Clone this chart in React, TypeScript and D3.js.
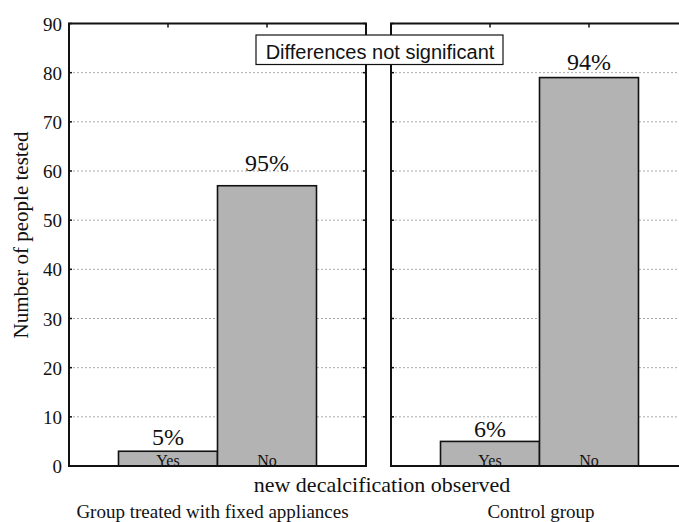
import React from "react";
import * as d3 from "d3";

const groups = ["Group treated with fixed appliances", "Control group"];
const categories = ["Yes", "No"];
const valuesTreated = [3, 57];
const valuesControl = [5, 79];
const percentTreated = ["5%", "95%"];
const percentControl = ["6%", "94%"];
const yTicks = [0, 10, 20, 30, 40, 50, 60, 70, 80, 90];

const W = 679;
const H = 522;
const top = 23.5;
const bottom = 466;
const panelW = 297;
const panelX = [69, 391];
const labelGaps = [
  [6, 15],
  [4, 8],
];
const groupLabelX = [212.5, 541];

export default function App() {
  const y = d3.scaleLinear().domain([0, 90]).range([bottom, top]);
  const serif = "'Liberation Serif', 'Times New Roman', serif";
  const sans = "'Liberation Sans', Arial, sans-serif";
  const panels = [
    { x0: panelX[0], values: valuesTreated, pct: percentTreated, name: groups[0] },
    { x0: panelX[1], values: valuesControl, pct: percentControl, name: groups[1] },
  ];
  return (
    <div style={{ position: "absolute", left: 0, top: 0 }}>
      <svg width={W} height={H} style={{ display: "block", background: "#fff" }}>
        {panels.map((p, pi) => {
          const x = d3
            .scaleBand<string>()
            .domain(categories)
            .range([p.x0, p.x0 + panelW])
            .paddingInner(0)
            .paddingOuter(0.5);
          return (
            <g key={pi}>
              {yTicks
                .filter((t) => t > 0 && t < 90)
                .map((t) => (
                  <line
                    key={t}
                    x1={p.x0}
                    x2={p.x0 + panelW}
                    y1={y(t)}
                    y2={y(t)}
                    stroke="#aaa"
                    strokeWidth={1}
                    strokeDasharray="2,2"
                  />
                ))}
              {categories.map((c, i) => {
                const cx = (x(c) as number) + x.bandwidth() / 2;
                return (
                  <g key={c}>
                    <rect
                      x={x(c)}
                      y={y(p.values[i])}
                      width={x.bandwidth()}
                      height={y(0) - y(p.values[i])}
                      fill="#b3b3b3"
                      stroke="#111"
                      strokeWidth={1.6}
                    />
                    <text
                      x={cx}
                      y={y(p.values[i]) - labelGaps[pi][i]}
                      textAnchor="middle"
                      fontFamily={serif}
                      fontSize={24}
                      fill="#111"
                    >
                      {p.pct[i]}
                    </text>
                    <text
                      x={cx}
                      y={bottom}
                      textAnchor="middle"
                      fontFamily={serif}
                      fontSize={16}
                      fill="#111"
                    >
                      {c}
                    </text>
                    <line x1={cx} x2={cx} y1={top} y2={top + 4} stroke="#111" strokeWidth={1.5} />
                  </g>
                );
              })}
              {yTicks.map((t) => (
                <g key={t}>
                  <line x1={p.x0} x2={p.x0 + 3} y1={y(t)} y2={y(t)} stroke="#111" strokeWidth={1.5} />
                  <line
                    x1={p.x0 + panelW - 3}
                    x2={p.x0 + panelW}
                    y1={y(t)}
                    y2={y(t)}
                    stroke="#111"
                    strokeWidth={1.5}
                  />
                </g>
              ))}
              <rect
                x={p.x0}
                y={top}
                width={panelW}
                height={bottom - top}
                fill="none"
                stroke="#111"
                strokeWidth={2}
              />
              <text
                x={groupLabelX[pi]}
                y={518}
                textAnchor="middle"
                fontFamily={serif}
                fontSize={19}
                fill="#111"
              >
                {p.name}
              </text>
            </g>
          );
        })}
        {yTicks.map((t) => (
          <text
            key={t}
            x={62}
            y={y(t) + 7}
            textAnchor="end"
            fontFamily={serif}
            fontSize={19}
            fill="#111"
          >
            {t}
          </text>
        ))}
        <text
          transform={`translate(28, 235) rotate(-90)`}
          textAnchor="middle"
          fontFamily={serif}
          fontSize={21}
          fill="#111"
        >
          Number of people tested
        </text>
        <text x={382} y={492} textAnchor="middle" fontFamily={serif} fontSize={22} fill="#111">
          new decalcification observed
        </text>
        <rect x={256} y={35} width={247} height={29.5} fill="#fff" stroke="#111" strokeWidth={1.2} />
        <text x={380} y={59} textAnchor="middle" fontFamily={sans} fontSize={20} fill="#111">
          Differences not significant
        </text>
      </svg>
    </div>
  );
}
